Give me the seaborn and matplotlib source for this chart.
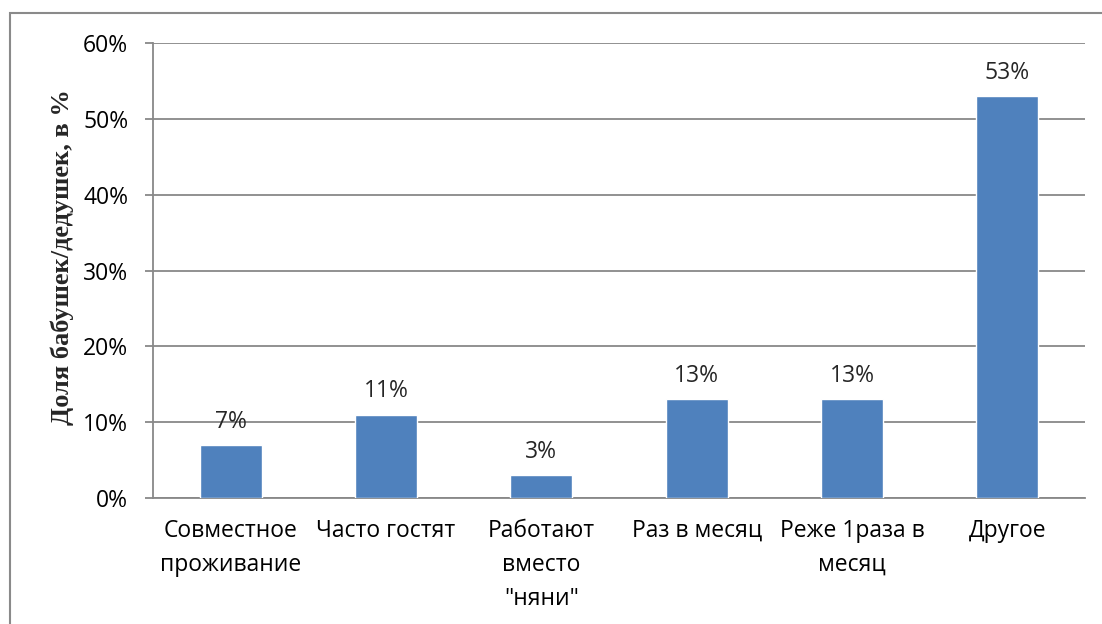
import matplotlib
matplotlib.use("Agg")
import matplotlib.pyplot as plt
import seaborn as sns
import pandas as pd
from matplotlib.patches import Rectangle

categories = ["Совместное\nпроживание", "Часто гостят", "Работают\nвместо\n\"няни\"",
              "Раз в месяц", "Реже 1раза в\nмесяц", "Другое"]
values = [7, 11, 3, 13, 13, 53]
yticks = [0, 10, 20, 30, 40, 50, 60]
ytick_labels = ["0%", "10%", "20%", "30%", "40%", "50%", "60%"]
ylabel = "Доля бабушек/дедушек, в %"

sns.set_theme(style="white")
plt.rcParams['font.family'] = ['Open Sans', 'DejaVu Sans']

df = pd.DataFrame({"cat": categories, "val": values})

fig = plt.figure(figsize=(11.02, 6.24), dpi=100)
ax = fig.add_axes([153/1102, 1-498/624, (1085-153)/1102, (498-43)/624])

grid_c = "#888888"
fs = 16.5
sns.barplot(data=df, x="cat", y="val", color="#4F81BD", saturation=1, width=0.4, ax=ax, zorder=3)
ax.set_ylim(0, 60)
ax.set_xlim(-0.5, 5.5)
ax.set_yticks(yticks)
ax.set_yticklabels(ytick_labels)
ax.yaxis.grid(True, color=grid_c, linewidth=1.3, zorder=0)
ax.set_axisbelow(True)
for s in ["top", "right"]:
    ax.spines[s].set_visible(False)
for s in ["left", "bottom"]:
    ax.spines[s].set_color(grid_c)
    ax.spines[s].set_linewidth(1.3)
ax.tick_params(axis="y", length=5.8, width=1.3, color=grid_c, pad=12, labelsize=fs, labelcolor="black", left=True)
ax.tick_params(axis="x", length=0, pad=15, labelsize=fs, labelcolor="black")
for lbl in ax.get_xticklabels():
    lbl.set_linespacing(1.55)
ax.set_xlabel("")
ax.set_ylabel(ylabel, family="Liberation Serif", fontweight="bold", fontsize=19)
ax.yaxis.set_label_coords(-0.085, 0.53)

for container in ax.containers:
    ax.bar_label(container, labels=[f"{v}%" for v in values], padding=8, fontsize=fs)

fig.add_artist(Rectangle((10/1102, -0.1), 1.2, 1 - 13/624 + 0.1, transform=fig.transFigure,
                         fill=False, edgecolor="#8a8a8a", linewidth=1.5))

fig.savefig("out.png", dpi=100)
